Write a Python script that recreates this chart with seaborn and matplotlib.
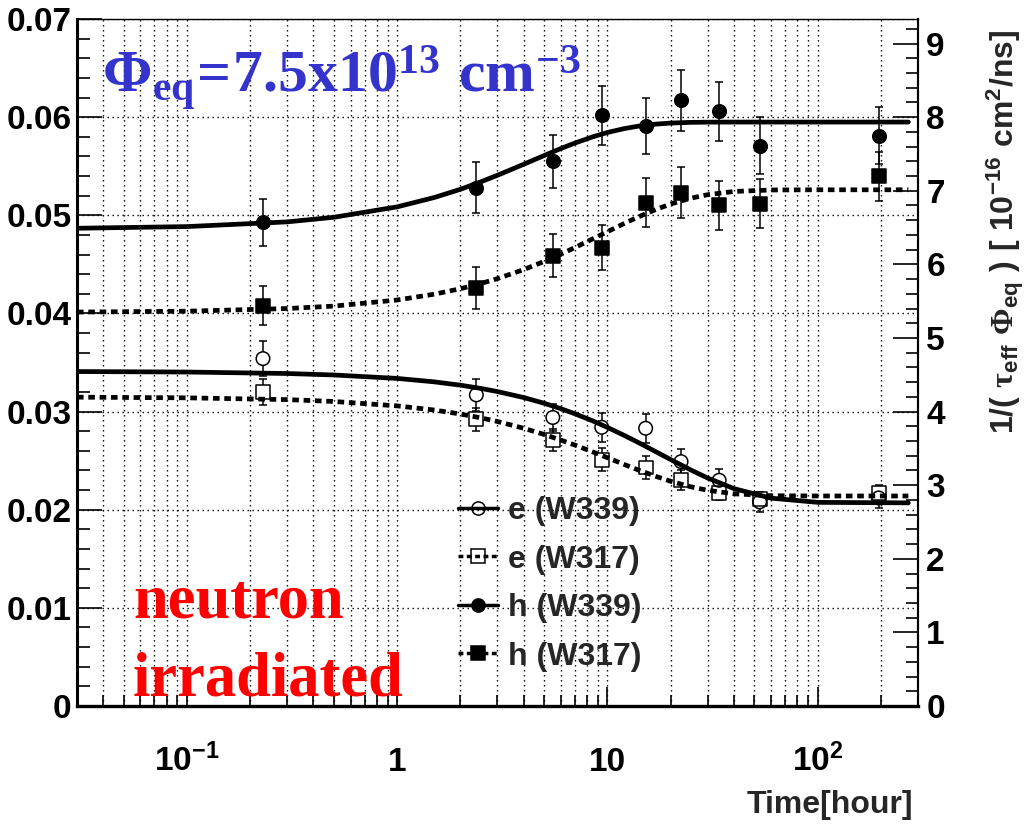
import matplotlib
matplotlib.use("Agg")
import matplotlib.pyplot as plt
from matplotlib.lines import Line2D
from matplotlib.ticker import FixedLocator, FuncFormatter, MultipleLocator, NullFormatter
import pandas as pd
import seaborn as sns

# ---------------- data ----------------
phi_eq = 7.5e13            # cm^-2
right_unit = 1e-16         # cm^2/ns

time_h = [0.23, 2.38, 5.5, 9.4, 15.2, 22.4, 34, 53, 195]

e_W339 = [0.0354, 0.0317, 0.0294, 0.0284, 0.0283, 0.0249, 0.0230, 0.0208, 0.0212]
e_W339_err = [0.0018, 0.0016, 0.0014, 0.0015, 0.0015, 0.0013, 0.0011, 0.0010, 0.0010]
e_W317 = [0.0320, 0.0292, 0.0271, 0.0251, 0.0243, 0.0230, 0.0217, 0.0211, 0.0217]
e_W317_err = [0.0013, 0.0012, 0.0011, 0.0012, 0.0012, 0.0010, 0.0007, 0.0007, 0.0008]
h_W339 = [0.0493, 0.0528, 0.0555, 0.0602, 0.0591, 0.0617, 0.0606, 0.0571, 0.0581]
h_W339_err = [0.0024, 0.0026, 0.0027, 0.0030, 0.0029, 0.0031, 0.0030, 0.0029, 0.0029]
h_W317 = [0.0408, 0.0426, 0.0459, 0.0467, 0.0513, 0.0523, 0.0510, 0.0512, 0.0540]
h_W317_err = [0.0020, 0.0021, 0.0022, 0.0023, 0.0025, 0.0026, 0.0025, 0.0025, 0.0025]

fit_time_h = [0.03, 0.1, 0.3, 0.5, 1, 1.5, 2, 2.5, 3, 4, 5, 6, 7, 8.5, 10, 12, 14,
              17, 20, 25, 30, 40, 60, 100, 270]
h_W339_fit = [0.04868, 0.04885, 0.04933, 0.04980, 0.05086, 0.05181, 0.05265, 0.05341,
              0.05408, 0.05520, 0.05609, 0.05680, 0.05736, 0.05799, 0.05844, 0.05883,
              0.05908, 0.05929, 0.05940, 0.05947, 0.05949, 0.05950, 0.05950, 0.05950, 0.05950]
h_W317_fit = [0.04014, 0.04023, 0.04050, 0.04075, 0.04137, 0.04196, 0.04252, 0.04305,
              0.04355, 0.04447, 0.04530, 0.04604, 0.04671, 0.04759, 0.04833, 0.04916,
              0.04983, 0.05059, 0.05115, 0.05175, 0.05210, 0.05243, 0.05258, 0.05260, 0.05260]
e_W339_fit = [0.03408, 0.03403, 0.03388, 0.03373, 0.03338, 0.03303, 0.03269, 0.03236,
              0.03204, 0.03143, 0.03085, 0.03030, 0.02978, 0.02906, 0.02839, 0.02758,
              0.02686, 0.02591, 0.02511, 0.02404, 0.02323, 0.02215, 0.02118, 0.02075, 0.02070]
e_W317_fit = [0.03147, 0.03140, 0.03122, 0.03103, 0.03058, 0.03016, 0.02975, 0.02936,
              0.02899, 0.02830, 0.02767, 0.02710, 0.02659, 0.02590, 0.02530, 0.02462,
              0.02406, 0.02340, 0.02290, 0.02233, 0.02198, 0.02162, 0.02143, 0.02140, 0.02140]

series_labels = ["e (W339)", "e (W317)", "h (W339)", "h (W317)"]

x_tick_values = [0.1, 1, 10, 100]
x_tick_labels = [r"$10^{-1}$", "1", "10", r"$10^{2}$"]

title_text = r"$\mathsf{\Phi_{eq}\!=\!7.5x10^{13}\ cm^{-3}}$"
note_lines = ["neutron", "irradiated"]
xlabel_text = "Time[hour]"
ylabel_right = r"$1/(\ \mathsf{\tau}_{eff}\ \mathsf{\Phi}_{eq}\ )\ [\ 10^{-16}\ cm^{2}/ns]$"

# ---------------- style ----------------
sns.set_theme(style="white")
plt.rcParams.update({
    "font.family": ["Liberation Sans", "DejaVu Sans"],
    "font.weight": "bold",
    "mathtext.fontset": "custom",
    "mathtext.rm": "Liberation Sans:bold",
    "mathtext.it": "Liberation Sans:bold",
    "mathtext.bf": "Liberation Sans:bold",
    "mathtext.sf": "Liberation Serif:bold",
    "mathtext.default": "rm",
    "axes.edgecolor": "black",
    "xtick.color": "black",
    "ytick.color": "black",
    "axes.facecolor": "white",
    "figure.facecolor": "white",
})

fig = plt.figure(figsize=(10.29, 8.27), dpi=100)
ax = fig.add_axes([0.0748, 0.1463, 0.8173, 0.8307])
ax.set_xscale("log")
ax.set_xlim(0.03, 300)
ax.set_ylim(0, 0.07)

dash_pattern = (1.4, 1.0)
specs = [
    (e_W339, e_W339_err, e_W339_fit, "o", False, "solid"),
    (e_W317, e_W317_err, e_W317_fit, "s", False, "dashed"),
    (h_W339, h_W339_err, h_W339_fit, "o", True, "solid"),
    (h_W317, h_W317_err, h_W317_fit, "s", True, "dashed"),
]
sizes = {"o": 95, "s": 100}

for vals, errs, fit, mk, filled, ls in specs:
    ax.errorbar(time_h, vals, yerr=errs, fmt="none", ecolor="black",
                elinewidth=1.1, capsize=3, capthick=1.1, zorder=2)
    if not filled:
        sns.scatterplot(x=time_h, y=vals, marker=mk, s=sizes[mk], color="white",
                        edgecolor="none", linewidth=0, ax=ax, zorder=2.5, legend=False)
    df = pd.DataFrame({"t": fit_time_h, "v": fit})
    sns.lineplot(data=df, x="t", y="v", ax=ax, color="black", lw=3.4,
                 estimator=None, sort=False, legend=False, zorder=3)
    ln = ax.lines[-1]
    if ls == "dashed":
        ln.set_dashes(dash_pattern)
    sns.scatterplot(x=time_h, y=vals, marker=mk, s=sizes[mk], color="black",
                    edgecolor="black", linewidth=1.1, ax=ax, zorder=4, legend=False)
    coll = ax.collections[-1]
    coll.set_facecolor("black" if filled else "none")
    coll.set_edgecolor("black")
    coll.set_linewidth(1.1)

ax.set_ylabel("")

# ticks / grid
minor_x = [m * 10.0 ** e for e in range(-2, 3) for m in range(2, 10)]
minor_x = [v for v in minor_x if 0.031 < v < 290]
ax.set_xticks(x_tick_values, labels=x_tick_labels, va="baseline")
ax.xaxis.set_minor_locator(FixedLocator(minor_x))
ax.xaxis.set_minor_formatter(NullFormatter())
ax.yaxis.set_major_locator(MultipleLocator(0.01))
ax.yaxis.set_minor_locator(MultipleLocator(0.002))
ax.yaxis.set_major_formatter(FuncFormatter(lambda v, _: "0" if abs(v) < 1e-9 else f"{v:.2f}"))

ax.tick_params(axis="y", which="major", direction="in", length=18, width=1.2,
               labelsize=24, pad=4, left=True, right=False)
ax.tick_params(axis="y", which="minor", direction="in", length=9, width=1.2,
               left=True, right=False)
ax.tick_params(axis="x", which="major", direction="in", length=14, width=1.2,
               labelsize=24, pad=47, top=False, bottom=True)
ax.tick_params(axis="x", which="minor", direction="in", length=8, width=1.2,
               top=False, bottom=True)

grid_style = dict(color="black", linestyle=(0, (1, 2.6)), linewidth=1.0)
ax.grid(True, which="both", axis="x", **grid_style)
ax.grid(True, which="major", axis="y", **grid_style)
ax.set_axisbelow(True)

for side, lw in [("left", 2.2), ("bottom", 2.4), ("top", 1.0), ("right", 1.5)]:
    ax.spines[side].set_linewidth(lw)
    ax.spines[side].set_color("black")

# right axis in 1e-16 cm^2/ns
ax2 = ax.twinx()
ax2.set_ylim(0, 0.07 / phi_eq / right_unit)
ax2.yaxis.set_major_locator(MultipleLocator(1))
ax2.yaxis.set_minor_locator(MultipleLocator(0.2))
ax2.yaxis.set_major_formatter(FuncFormatter(lambda v, _: f"{v:.0f}"))
ax2.tick_params(axis="y", which="major", direction="in", length=18, width=1.2,
                labelsize=24, pad=6, left=False, right=True)
ax2.tick_params(axis="y", which="minor", direction="in", length=9, width=1.2,
                left=False, right=True)
for side in ["left", "top", "bottom"]:
    ax2.spines[side].set_visible(False)
ax2.spines["right"].set_linewidth(1.5)
ax2.spines["right"].set_color("black")
ax2.grid(False)

# labels
ax.set_xlabel(xlabel_text, fontsize=23, fontweight="bold", loc="right")
ax.xaxis.set_label_coords(0.994, -0.144)
ax.xaxis.label.set_va("center")

ax2.set_ylabel(ylabel_right, fontsize=23, loc="top")
ax2.yaxis.set_label_coords(1.0795, 0.985)

fig.text(102 / 1029, 1 - 92 / 827, title_text, color="#3434CC", fontsize=43,
         ha="left", va="baseline")
fig.text(133 / 1029, 1 - 618 / 827, note_lines[0], color="red", fontsize=45,
         family="Liberation Serif", fontweight="bold", ha="left", va="baseline")
fig.text(133 / 1029, 1 - 695 / 827, note_lines[1], color="red", fontsize=45,
         family="Liberation Serif", fontweight="bold", ha="left", va="baseline")

# legend
handles = [
    Line2D([], [], color="black", lw=2.5, ls="-", marker="o", ms=9.5,
           mfc="none", mec="black", mew=1.1),
    Line2D([], [], color="black", lw=2.5, ls=(0, dash_pattern), marker="s", ms=9.5,
           mfc="none", mec="black", mew=1.1),
    Line2D([], [], color="black", lw=2.5, ls="-", marker="o", ms=9.5,
           mfc="black", mec="black", mew=1.1),
    Line2D([], [], color="black", lw=2.5, ls=(0, dash_pattern), marker="s", ms=9.5,
           mfc="black", mec="black", mew=1.1),
]
ax2.legend(handles, series_labels, loc="upper left",
           bbox_to_anchor=(458 / 1029, 1 - 496 / 827), bbox_transform=fig.transFigure,
           frameon=False, borderpad=0, borderaxespad=0, handlelength=1.25,
           handletextpad=0.3, labelspacing=0.58,
           prop={"size": 23, "weight": "bold", "family": "Liberation Sans"})

fig.savefig("out.png", dpi=100)
